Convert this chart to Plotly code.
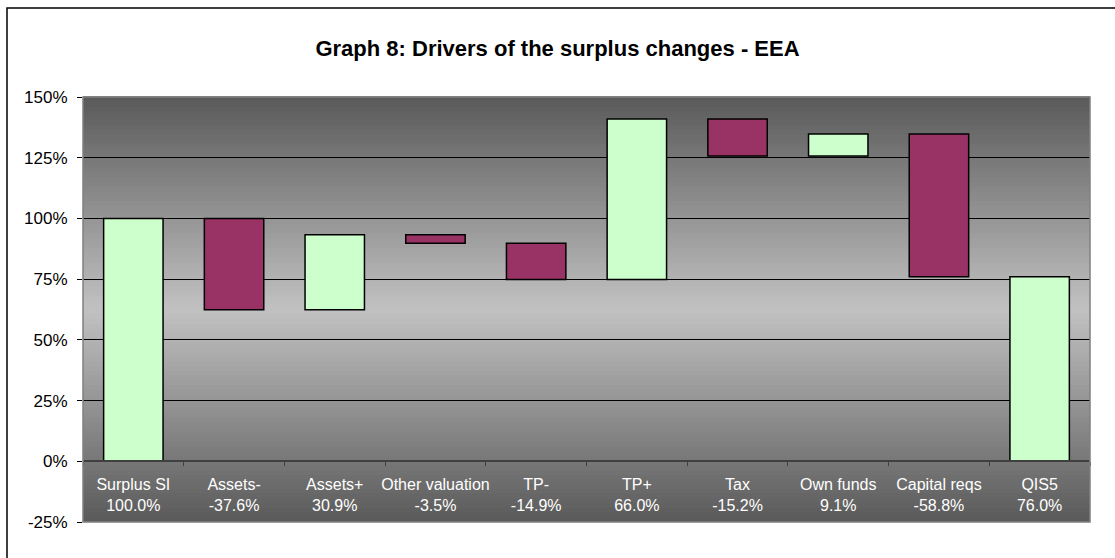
import plotly.graph_objects as go

# Data
categories = ["Surplus SI", "Assets-", "Assets+", "Other valuation", "TP-",
              "TP+", "Tax", "Own funds", "Capital reqs", "QIS5"]
changes = [100.0, -37.6, 30.9, -3.5, -14.9, 66.0, -15.2, 9.1, -58.8, 76.0]
measures = ["absolute"] + ["relative"] * 8 + ["total"]

y_ticks = [-25, 0, 25, 50, 75, 100, 125, 150]
y_tick_text = [f"{v}%" for v in y_ticks]

colors = {"up": "#ccffcc", "down": "#993366", "edge": "#000000"}

tick_text = [f"{c}<br>{v:.1f}%" for c, v in zip(categories, changes)]

fig = go.Figure()

fig.add_trace(
    go.Waterfall(
        x=categories,
        y=changes,
        measure=measures,
        increasing=dict(marker=dict(color=colors["up"], line=dict(color=colors["edge"], width=1.5))),
        decreasing=dict(marker=dict(color=colors["down"], line=dict(color=colors["edge"], width=1.5))),
        totals=dict(marker=dict(color=colors["up"], line=dict(color=colors["edge"], width=1.5))),
        connector=dict(visible=False),
        showlegend=False,
        hoverinfo="skip",
    )
)

# gradient plot background: dark at the edges, light in the middle
shapes = []
n_bands = 90
dark, light = 0x5a, 0xc2
for i in range(n_bands):
    t = (i + 0.5) / n_bands
    k = 1 - abs(t - 0.5) * 2
    g = int(dark + (light - dark) * k)
    shapes.append(dict(
        type="rect", xref="paper", yref="paper",
        x0=0, x1=1, y0=i / n_bands, y1=(i + 1) / n_bands + 0.002,
        fillcolor=f"rgb({g},{g},{g})", line=dict(width=0), layer="below",
    ))
# plot area border
shapes.append(dict(type="rect", xref="paper", yref="paper", x0=0, x1=1, y0=0, y1=1,
                   line=dict(color="#808080", width=1.5), layer="above"))
# outer chart border
shapes.append(dict(type="rect", xref="paper", yref="paper",
                   x0=-76 / 1007, x1=1.1, y0=-0.2, y1=1 + 89 / 425,
                   line=dict(color="#000000", width=1.5), layer="below"))

fig.update_layout(
    width=1115, height=558,
    margin=dict(l=83, r=25, t=97, b=36, autoexpand=False),
    paper_bgcolor="white",
    plot_bgcolor="rgba(0,0,0,0)",
    font=dict(family="Liberation Sans, Arial, sans-serif", size=16, color="black"),
    title=dict(
        text="<b>Graph 8: Drivers of the surplus changes - EEA</b>",
        x=0.5, xanchor="center", y=1 - 48 / 558, yanchor="middle", yref="container",
        font=dict(size=22, color="black"),
    ),
    waterfallgap=0.41,
    shapes=shapes,
)

fig.update_yaxes(
    range=[-25, 150], tickmode="array", tickvals=y_ticks, ticktext=y_tick_text,
    ticks="outside", ticklen=5, tickcolor="black", ticklabelstandoff=6,
    tickfont=dict(size=17),
    showgrid=True, gridcolor="black", gridwidth=1,
    zeroline=True, zerolinecolor="#404040", zerolinewidth=1.5,
    showline=False, fixedrange=True, automargin=False,
)
fig.update_xaxes(
    anchor="free", position=25 / 175,
    tickmode="array", tickvals=categories, ticktext=tick_text,
    tickfont=dict(color="white", size=16), tickangle=0, ticklabelstandoff=9,
    ticks="outside", tickson="boundaries", ticklen=4, tickcolor="#404040",
    showline=True, linecolor="#404040", linewidth=1.5,
    showgrid=False, fixedrange=True, automargin=False,
)

fig.write_html(
    "out.html",
    config={"displayModeBar": False},
    post_script="document.body.style.margin='0';",
)
